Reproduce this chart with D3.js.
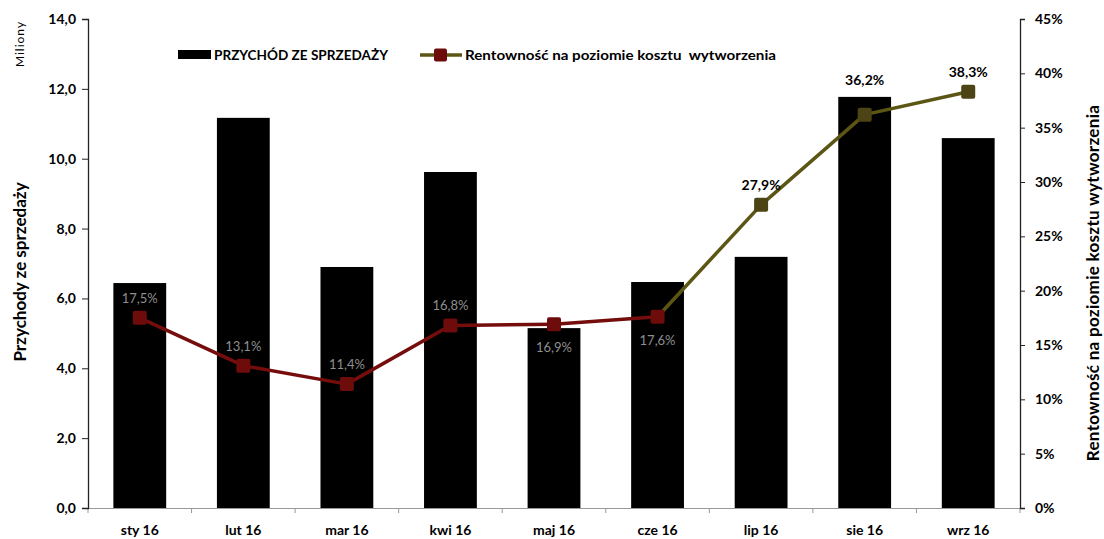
<!DOCTYPE html>
<html>
<head>
<meta charset="utf-8">
<script src="https://cdn.jsdelivr.net/npm/d3@7"></script>
<style>
  body { margin: 0; background: #fff; }
  svg { font-family: Lato, "Open Sans", sans-serif; }
</style>
</head>
<body>
<svg id="chart" width="1104" height="539"></svg>
<script>
// data
var months = ['sty 16', 'lut 16', 'mar 16', 'kwi 16', 'maj 16', 'cze 16', 'lip 16', 'sie 16', 'wrz 16'];
var revenue = [6.44, 11.17, 6.90, 9.62, 5.15, 6.47, 7.19, 11.77, 10.59];   // miliony
var margin = [17.5, 13.1, 11.4, 16.8, 16.9, 17.6, 27.9, 36.2, 38.3];       // %
var leftTicks = [0, 2, 4, 6, 8, 10, 12, 14];
var rightTicks = [0, 5, 10, 15, 20, 25, 30, 35, 40, 45];

function drawChart() {
  var svg = d3.select('#chart');
  var left = 88, right = 1020, plotTop = 19, bottom = 508;

  var x = d3.scaleBand().domain(months).range([left, right]).paddingInner(0.49).paddingOuter(0.245);
  var yL = d3.scaleLinear().domain([0, 14]).range([bottom, plotTop]);
  var yR = d3.scaleLinear().domain([0, 45]).range([bottom, plotTop]);
  var comma = function(v) { return d3.format('.1f')(v).replace('.', ','); };

  var red = '#760d0d', olive = '#5c5615';

  // bars
  svg.append('g').selectAll('rect')
    .data(revenue)
    .enter().append('rect')
    .attr('x', function(d, i) { return x(months[i]); })
    .attr('width', x.bandwidth())
    .attr('y', function(d) { return yL(d); })
    .attr('height', function(d) { return bottom - yL(d); })
    .attr('fill', '#000');

  // x baseline and ticks between categories
  var xg = svg.append('g');
  xg.append('line').attr('x1', left).attr('x2', right).attr('y1', bottom + 0.5).attr('y2', bottom + 0.5)
    .attr('stroke', '#999').attr('stroke-width', 1);
  var step = x.step();
  xg.selectAll('line.t').data(d3.range(months.length + 1)).enter().append('line')
    .attr('class', 't')
    .attr('x1', function(i) { return left + i * step; })
    .attr('x2', function(i) { return left + i * step; })
    .attr('y1', bottom).attr('y2', bottom + 5)
    .attr('stroke', '#999');
  xg.selectAll('text').data(months).enter().append('text')
    .attr('x', function(d) { return x(d) + x.bandwidth() / 2; })
    .attr('y', 535)
    .attr('text-anchor', 'middle')
    .attr('font-size', 14).attr('font-weight', 'bold')
    .text(function(d) { return d; });

  // left axis
  var axL = svg.append('g').attr('transform', 'translate(' + left + ',0)')
    .call(d3.axisLeft(yL).tickValues(leftTicks).tickFormat(comma).tickSize(6).tickPadding(6));
  axL.select('.domain').attr('stroke', '#222').attr('stroke-width', 1.3);
  axL.selectAll('.tick line').attr('stroke', '#222');
  axL.selectAll('.tick text').attr('font-size', 14).attr('font-weight', 'bold').attr('fill', '#000')
    .attr('font-family', 'Lato, sans-serif');

  // right axis
  var axR = svg.append('g').attr('transform', 'translate(' + right + ',0)')
    .call(d3.axisRight(yR).tickValues(rightTicks).tickFormat(function(d) { return d + '%'; }).tickSize(5).tickPadding(10));
  axR.select('.domain').attr('stroke', '#222').attr('stroke-width', 1.3);
  axR.selectAll('.tick line').attr('stroke', '#222');
  axR.selectAll('.tick text').attr('font-size', 14).attr('font-weight', 'bold').attr('fill', '#000')
    .attr('font-family', 'Lato, sans-serif');

  // axis titles
  svg.append('text').attr('transform', 'translate(26,272) rotate(-90)')
    .attr('text-anchor', 'middle').attr('font-size', 17).attr('font-weight', 'bold')
    .text('Przychody ze sprzedaży');
  svg.append('text').attr('transform', 'translate(24,44) rotate(-90)')
    .attr('text-anchor', 'middle').attr('font-size', 12).attr('letter-spacing', 1)
    .text('Miliony');
  svg.append('text').attr('transform', 'translate(1099,283) rotate(-90)')
    .attr('text-anchor', 'middle').attr('font-size', 17).attr('font-weight', 'bold')
    .attr('letter-spacing', 0.3)
    .text('Rentowność na poziomie kosztu wytworzenia');

  // line segments (red up to cze 16, olive afterwards)
  var cx = function(i) { return x(months[i]) + x.bandwidth() / 2; };
  svg.append('g').selectAll('line')
    .data(d3.range(margin.length - 1))
    .enter().append('line')
    .attr('x1', function(i) { return cx(i); })
    .attr('y1', function(i) { return yR(margin[i]); })
    .attr('x2', function(i) { return cx(i + 1); })
    .attr('y2', function(i) { return yR(margin[i + 1]); })
    .attr('stroke', function(i) { return i < 5 ? red : olive; })
    .attr('stroke-width', 3.5)
    .attr('stroke-linecap', 'round');

  // markers
  var ms = 14;
  svg.append('g').selectAll('rect')
    .data(margin)
    .enter().append('rect')
    .attr('x', function(d, i) { return cx(i) - ms / 2; })
    .attr('y', function(d) { return yR(d) - ms / 2; })
    .attr('width', ms).attr('height', ms).attr('rx', 2)
    .attr('fill', function(d, i) { return i < 6 ? '#6e0b0b' : '#4c4414'; });

  // value labels: below the marker for maj/cze, sie lifted above its bar
  svg.append('g').selectAll('text')
    .data(margin)
    .enter().append('text')
    .attr('x', function(d, i) { return cx(i); })
    .attr('y', function(d, i) {
      if (i === 4 || i === 5) return yR(d) + 28;
      if (i === 7) return yR(d) - 30;
      return yR(d) - 15;
    })
    .attr('text-anchor', 'middle')
    .attr('font-size', function(d, i) { return i >= 6 ? 14 : 13; })
    .attr('font-weight', function(d, i) { return i >= 6 ? 'bold' : 'normal'; })
    .attr('fill', function(d, i) { return i >= 6 ? '#000' : '#8f8f8f'; })
    .text(function(d) { return comma(d) + '%'; });

  // legend
  var lg = svg.append('g');
  lg.append('rect').attr('x', 178).attr('y', 50).attr('width', 33).attr('height', 9).attr('fill', '#000');
  lg.append('text').attr('x', 214).attr('y', 59.5).attr('font-size', 13).attr('font-weight', 'bold')
    .attr('textLength', 174).attr('lengthAdjust', 'spacingAndGlyphs')
    .text('PRZYCHÓD ZE SPRZEDAŻY');
  lg.append('line').attr('x1', 420).attr('x2', 462).attr('y1', 55).attr('y2', 55)
    .attr('stroke', olive).attr('stroke-width', 3.5);
  lg.append('rect').attr('x', 434).attr('y', 48.5).attr('width', 13).attr('height', 13).attr('rx', 2).attr('fill', '#6e0b0b');
  lg.append('text').attr('x', 465).attr('y', 59.5).attr('font-size', 13).attr('font-weight', 'bold')
    .attr('xml:space', 'preserve')
    .attr('textLength', 311).attr('lengthAdjust', 'spacingAndGlyphs')
    .text('Rentowność na poziomie kosztu  wytworzenia');
}

drawChart();
</script>
</body>
</html>
